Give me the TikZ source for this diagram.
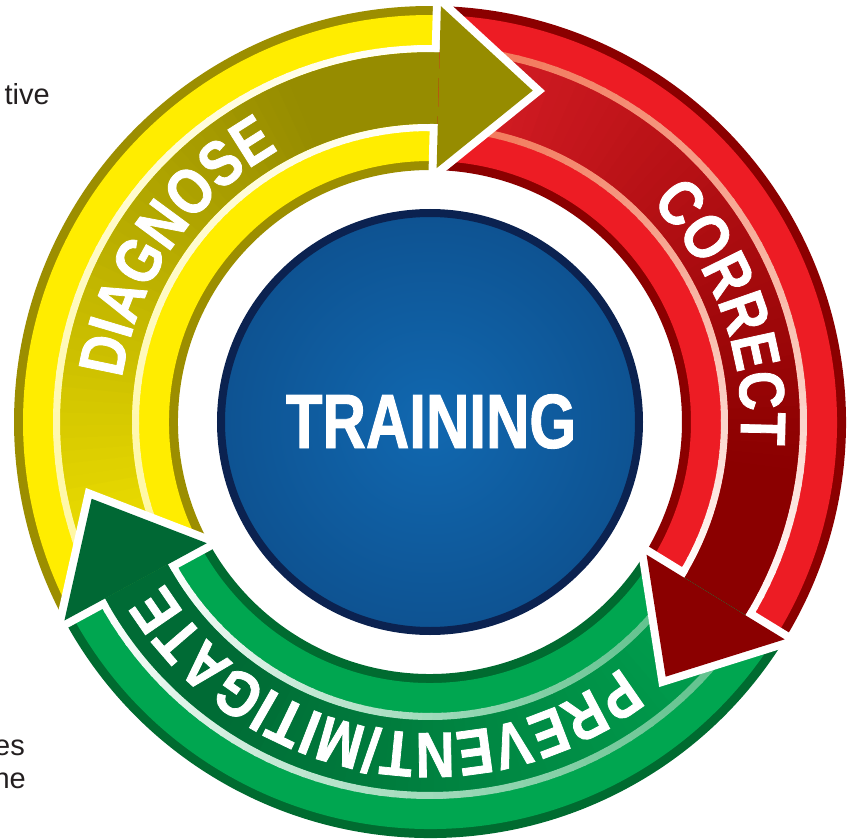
\documentclass[tikz,border=0pt]{standalone}
\usepackage{fontspec}
\setmainfont{Liberation Sans}
\newfontfamily\condfam[FakeStretch=0.78,FakeBold=1.2]{Liberation Sans}
\newfontfamily\arcfam[FakeStretch=0.84,FakeBold=1.2]{Liberation Sans}
\usetikzlibrary{calc,decorations.text}

\definecolor{yDark}{HTML}{9C8E00}
\definecolor{yBright}{HTML}{FFED00}
\definecolor{yShaftTail}{HTML}{F2E300}
\definecolor{yShaftHead}{HTML}{968C00}
\definecolor{yStripe}{HTML}{FFF7A0}
\definecolor{yHead}{HTML}{968C00}
\definecolor{rDark}{HTML}{8B0000}
\definecolor{rBright}{HTML}{ED1C24}
\definecolor{rShaftTail}{HTML}{D81E26}
\definecolor{rShaftHead}{HTML}{8B0000}
\definecolor{rStripe}{HTML}{F27455}
\definecolor{rHead}{HTML}{8B0000}
\definecolor{gDark}{HTML}{006B30}
\definecolor{gBright}{HTML}{00A650}
\definecolor{gShaftTail}{HTML}{00A24F}
\definecolor{gShaftHead}{HTML}{006B35}
\definecolor{gStripe}{HTML}{5CC08A}
\definecolor{gHead}{HTML}{006834}
\definecolor{navyC}{HTML}{1168B0}
\definecolor{navyE}{HTML}{0A3D73}
\definecolor{navyB}{HTML}{0B2250}
\definecolor{sideText}{HTML}{231F20}

\pgfdeclareradialshading{navyglow}{\pgfpoint{0bp}{0bp}}{color(0bp)=(navyC); color(50bp)=(navyE)}

\newcommand{\arcfont}{\arcfam\bfseries\fontsize{64}{64}\selectfont}

% #1 tail angle, #2 head-base angle, #3 colour prefix
\newcommand{\drawseg}[3]{%
  \fill[#3Dark] (#1:252) arc[start angle=#1, end angle=#2, radius=252] -- (#2:416) arc[start angle=#2, end angle=#1, radius=416] -- cycle;
  \fill[#3Bright] (#1:261) arc[start angle=#1, end angle=#2, radius=261] -- (#2:407) arc[start angle=#2, end angle=#1, radius=407] -- cycle;
  \foreach \i in {0,...,59}{%
    \pgfmathsetmacro{\aA}{#1-(#1-(#2))*\i/60}%
    \pgfmathsetmacro{\aB}{#1-(#1-(#2))*(\i+1)/60}%
    \pgfmathsetmacro{\aC}{ifthenelse(\i<59,\aB-0.4,\aB)}%
    \pgfmathtruncatemacro{\pS}{min(100,125*\i/59)}%
    \pgfmathtruncatemacro{\pT}{100*(\i/59)^1.2}%
    \colorlet{segShaft}{#3ShaftHead!\pS!#3ShaftTail}%
    \colorlet{segStripe}{white!\pT!#3Stripe}%
    \fill[segShaft] (\aA:298) arc[start angle=\aA, end angle=\aC, radius=298] -- (\aC:370) arc[start angle=\aC, end angle=\aA, radius=370] -- cycle;
    \draw[segStripe, line width=7pt] (\aA:294.5) arc[start angle=\aA, end angle=\aC, radius=294.5];
    \draw[segStripe, line width=7pt] (\aA:373.5) arc[start angle=\aA, end angle=\aC, radius=373.5];
  }%
}

% #1 base angle, #2 fill colour
\newcommand{\drawhead}[2]{%
  \pgfmathsetmacro{\tipang}{#1-90}%
  \coordinate (tip#2) at ($(#1:334)+(\tipang:94)$);
  \draw[white, line width=16pt, line join=miter, miter limit=12] (#1:370) -- (#1:416) -- (tip#2) -- (#1:254) -- (#1:298);
  \fill[#2] (#1:416) -- (tip#2) -- (#1:254) -- cycle;
}

\begin{document}
\begin{tikzpicture}[x=1pt, y=1pt]
\useasboundingbox (-430,-416) rectangle (421,422);

% ring segments (tail -> head base, clockwise)
\drawseg{208.5}{88.5}{y}
\drawseg{88.5}{-31.5}{r}
\drawseg{-31.5}{-151.5}{g}

% arrow heads
\drawhead{88.5}{yHead}
\drawhead{-31.5}{rHead}
\drawhead{-151.5}{gHead}

% centre disc
\shade[shading=navyglow] (0,0) circle[radius=209];
\draw[navyB, line width=8pt] (0,0) circle[radius=209];
\node[text=white, inner sep=0, anchor=base, font=\condfam\bfseries\fontsize{77}{77}\selectfont] (training) at (1,-26) {TRAINING};

% arc labels
\path[decorate, decoration={text along path, text={|\arcfont|DIAGNOSE}, text align=center, text color=white}]
  (205.5:311) arc[start angle=205.5, end angle=85.5, radius=311];
\path[decorate, decoration={text along path, text={|\arcfont|CORRECT}, text align=center, text color=white}]
  (80.3:311) arc[start angle=80.3, end angle=-39.7, radius=311];
\path[decorate, decoration={text along path, text={|\arcfont|PREVENT/MITIGATE}, text align=center, text color=white}]
  (-30.4:311) arc[start angle=-30.4, end angle=-170.4, radius=311];

% cut-off page text at the left
\node[anchor=base east, inner sep=0, text=sideText, font=\fontsize{29}{29}\selectfont] (tive) at (-380,317) {tive};
\node[anchor=base east, inner sep=0, text=sideText, font=\fontsize{29}{29}\selectfont] (es) at (-405,-333) {es};
\node[anchor=base east, inner sep=0, text=sideText, font=\fontsize{29}{29}\selectfont] (he) at (-404,-366) {he};
\end{tikzpicture}
\end{document}
